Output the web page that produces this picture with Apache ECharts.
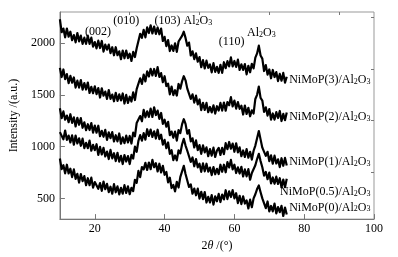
<!DOCTYPE html>
<html>
<head>
<meta charset="utf-8">
<script src="https://cdn.jsdelivr.net/npm/echarts@6/dist/echarts.min.js"></script>
<style>
  html, body { margin: 0; padding: 0; background: #fff; }
  #chart { width: 398px; height: 257px; }
</style>
</head>
<body>
<div id="chart"></div>
<script>
const twoTheta = [10,10.5,11,11.5,12,12.5,13,13.5,14,14.5,15,15.5,16,16.5,17,17.5,18,18.5,19,19.5,
  20,20.5,21,21.5,22,22.5,23,23.5,24,24.5,25,25.5,26,26.5,27,27.5,28,28.5,29,29.5,
  30,30.5,31,31.5,32,32.5,33,33.5,34,34.5,35,35.5,36,36.5,37,37.5,38,38.5,39,39.5,
  40,40.5,41,41.5,42,42.5,43,43.5,44,44.5,45,45.5,46,46.5,47,47.5,48,48.5,49,49.5,
  50,50.5,51,51.5,52,52.5,53,53.5,54,54.5,55,55.5,56,56.5,57,57.5,58,58.5,59,59.5,
  60,60.5,61,61.5,62,62.5,63,63.5,64,64.5,65,65.5,66,66.5,67,67.5,68,68.5,69,69.5,
  70,70.5,71,71.5,72,72.5,73,73.5,74,74.5,75];

const nimop3 = [2230,2105,2140,2055,2140,2062,2110,2028,2077,2007,2097,2017,2072,1992,2052,1992,2072,1992,2052,1966,
  2010,1949,2023,1952,2020,1918,1985,1937,1985,1903,1960,1882,1960,1883,1920,1844,1928,1853,1928,1855,
  1897,1827,1915,1865,1950,1950,2090,2050,2128,2055,2152,2097,2172,2093,2160,2089,2150,2085,2140,2020,
  2060,1970,2028,1923,1977,1924,1998,1915,2015,2000,2070,2110,2050,1975,2005,1880,1920,1845,1900,1820,
  1865,1767,1835,1755,1830,1761,1793,1717,1806,1722,1770,1712,1790,1712,1815,1757,1825,1775,1862,1775,
  1827,1770,1840,1740,1795,1740,1797,1698,1780,1718,1800,1755,1860,1900,1975,1880,1850,1730,1787,1695,
  1745,1660,1740,1672,1720,1633,1702,1637,1712,1618,1675];

const nimop2 = [1760,1672,1745,1652,1700,1613,1683,1618,1668,1570,1637,1570,1643,1550,1613,1551,1619,1518,1577,1515,
  1583,1507,1565,1474,1563,1492,1531,1461,1546,1461,1502,1438,1520,1442,1504,1446,1513,1416,1499,1422,
  1482,1435,1525,1450,1555,1560,1660,1605,1695,1630,1727,1677,1752,1687,1750,1683,1768,1673,1710,1622,
  1680,1585,1608,1505,1580,1497,1545,1493,1605,1560,1630,1680,1640,1560,1555,1460,1505,1425,1492,1408,
  1455,1353,1423,1354,1422,1332,1383,1330,1399,1319,1390,1348,1422,1348,1426,1347,1430,1400,1478,1388,
  1445,1367,1430,1365,1395,1310,1397,1315,1375,1293,1350,1320,1460,1500,1580,1470,1445,1335,1380,1300,
  1363,1260,1320,1261,1333,1276,1344,1247,1316,1255,1330];

const nimop1 = [1370,1275,1340,1260,1300,1236,1313,1230,1282,1195,1278,1211,1275,1182,1235,1158,1216,1160,1228,1135,
  1203,1135,1202,1100,1153,1095,1162,1065,1138,1081,1140,1050,1110,1051,1127,1028,1090,1033,1106,1040,
  1103,1030,1135,1100,1228,1215,1295,1245,1355,1283,1340,1287,1368,1286,1380,1305,1348,1268,1325,1220,
  1260,1192,1240,1110,1145,1085,1145,1058,1160,1130,1215,1265,1220,1125,1160,1050,1080,992,1060,967,
  1015,930,1012,945,993,907,976,913,990,900,962,988,920,988,927,1033,975,1045,980,1030,
  950,1032,945,993,907,963,900,976,893,950,875,960,1010,1080,1150,1070,990,985,910,950,
  860,915,835,913,837,877,802,888,815,891,818];

const nimop05 = [1140,1155,1070,1155,1065,1107,1040,1109,1018,1107,1031,1080,1008,1077,985,1037,985,1058,960,1017,
  965,1023,920,997,925,988,905,952,880,968,887,936,860,940,855,911,832,919,856,909,
  832,920,885,1000,950,1055,1112,1057,1130,1067,1168,1104,1165,1094,1148,1078,1163,1073,1115,1020,
  1065,985,1040,930,965,870,915,867,965,935,1020,1075,1010,960,960,853,895,810,880,800,
  835,756,838,761,835,759,798,725,803,733,785,735,825,757,825,752,850,798,872,780,
  825,745,800,740,805,712,780,713,782,680,745,730,820,880,930,860,800,720,755,685,
  750,645,702,641,710,640,695,606,682,608,690];

const nimop0 = [885,783,820,742,825,741,787,706,780,688,737,653,735,667,715,627,695,627,700,604,
  658,673,593,648,573,663,589,640,561,613,545,637,559,616,539,602,545,628,552,616,
  540,602,570,680,650,765,705,803,780,843,775,846,782,872,801,840,760,835,750,815,
  728,755,655,700,600,630,568,660,605,705,700,815,735,750,610,635,545,595,530,594,
  498,563,493,561,460,515,460,532,440,520,472,543,465,537,490,579,493,568,513,580,
  500,550,455,525,445,520,450,481,403,488,415,500,540,590,625,560,500,495,405,470,
  375,427,375,450,355,416,367,428,330,412,345];

const seriesNames = ['NiMoP(3)', 'NiMoP(2)', 'NiMoP(1)', 'NiMoP(0.5)', 'NiMoP(0)'];
const seriesValues = [nimop3, nimop2, nimop1, nimop05, nimop0];

const xTicks = [20, 40, 60, 80, 100];
const xMinorTicks = [30, 50, 70, 90];
const yTicks = [500, 1000, 1500, 2000];
const yMinorTicks = [750, 1250, 1750, 2250];

// peak labels and sample labels, anchored in data coordinates [2θ, intensity]
const peakLabels = [
  { text: '(002)', at: [20.9, 2106], align: 'center' },
  { text: '(010)', at: [29.0, 2212], align: 'center' },
  { text: '(103) Al{s|2}O{s|3}', at: [37.1, 2212], align: 'left' },
  { text: '(110)', at: [59.2, 2010], align: 'center' },
  { text: 'Al{s|2}O{s|3}', at: [63.6, 2096], align: 'left' }
];
const sampleLabels = [
  { text: 'NiMoP(3)/Al{s|2}O{s|3}', at: [75.7, 1644] },
  { text: 'NiMoP(2)/Al{s|2}O{s|3}', at: [75.7, 1288] },
  { text: 'NiMoP(1)/Al{s|2}O{s|3}', at: [75.7, 856] },
  { text: 'NiMoP(0.5)/Al{s|2}O{s|3}', at: [73.1, 567] },
  { text: 'NiMoP(0)/Al{s|2}O{s|3}', at: [75.7, 413] }
];

const FONT = '"Liberation Serif", "DejaVu Serif", serif';
const axisGrey = '#777';
const rich = {
  s: { fontFamily: FONT, fontSize: 8, lineHeight: 8, verticalAlign: 'bottom', fill: '#000' }
};

const chart = echarts.init(document.getElementById('chart'), null, { renderer: 'canvas' });

const xBase = { type: 'value', min: 10, max: 100, gridIndex: 0 };
const yBase = { type: 'value', min: 300, max: 2300, gridIndex: 0 };

chart.setOption({
  animation: false,
  backgroundColor: '#fff',
  grid: { left: 58, right: 24, top: 12, bottom: 37, show: true, borderColor: '#999', borderWidth: 1 },
  xAxis: [
    {
      ...xBase,
      name: '2{i|θ} /(°)',
      nameLocation: 'middle', nameGap: 17,
      nameTextStyle: {
        fontFamily: FONT, fontSize: 12, color: '#000',
        rich: { i: { fontFamily: FONT, fontSize: 12, fontStyle: 'italic', color: '#000' } }
      },
      axisLine: { show: true, onZero: false, lineStyle: { color: axisGrey, width: 1 } },
      axisTick: { show: true, inside: true, length: 5, customValues: xTicks, lineStyle: { color: axisGrey } },
      axisLabel: { customValues: xTicks, margin: 4, fontFamily: FONT, fontSize: 12, color: '#000' },
      splitLine: { show: false }
    },
    {
      ...xBase,
      axisLine: { show: false },
      axisTick: { show: true, inside: true, length: 3, customValues: xMinorTicks, lineStyle: { color: axisGrey } },
      axisLabel: { show: false },
      splitLine: { show: false }
    }
  ],
  yAxis: [
    {
      ...yBase,
      name: 'Intensity /(a.u.)',
      nameLocation: 'middle', nameGap: 36,
      nameTextStyle: { fontFamily: FONT, fontSize: 12, color: '#000' },
      axisLine: { show: true, onZero: false, lineStyle: { color: axisGrey, width: 1 } },
      axisTick: { show: true, inside: true, length: 5, customValues: yTicks, lineStyle: { color: axisGrey } },
      axisLabel: {
        customValues: yTicks, margin: 5, fontFamily: FONT, fontSize: 12, color: '#000',
        formatter: v => String(v)
      },
      splitLine: { show: false }
    },
    {
      ...yBase,
      axisLine: { show: false },
      axisTick: { show: true, inside: true, length: 3, customValues: yMinorTicks, lineStyle: { color: axisGrey } },
      axisLabel: { show: false },
      splitLine: { show: false }
    }
  ],
  series: seriesValues.map((vals, k) => ({
    name: seriesNames[k],
    type: 'line',
    xAxisIndex: 0, yAxisIndex: 0,
    showSymbol: false,
    silent: true,
    lineStyle: { color: '#000', width: 2.2, join: 'round' },
    data: vals.map((v, i) => [twoTheta[i], v])
  }))
});

// text annotations placed through the grid's own coordinate system
function textEl(lbl, align) {
  const p = chart.convertToPixel({ gridIndex: 0 }, lbl.at);
  return {
    type: 'text', x: p[0], y: p[1], silent: true,
    style: {
      text: lbl.text, fill: '#000', font: '12px ' + FONT,
      fontFamily: FONT, fontSize: 12,
      align: align, verticalAlign: 'middle', rich: rich
    }
  };
}
chart.setOption({
  graphic: [
    ...peakLabels.map(l => textEl(l, l.align)),
    ...sampleLabels.map(l => textEl(l, 'left'))
  ]
});
</script>
</body>
</html>
